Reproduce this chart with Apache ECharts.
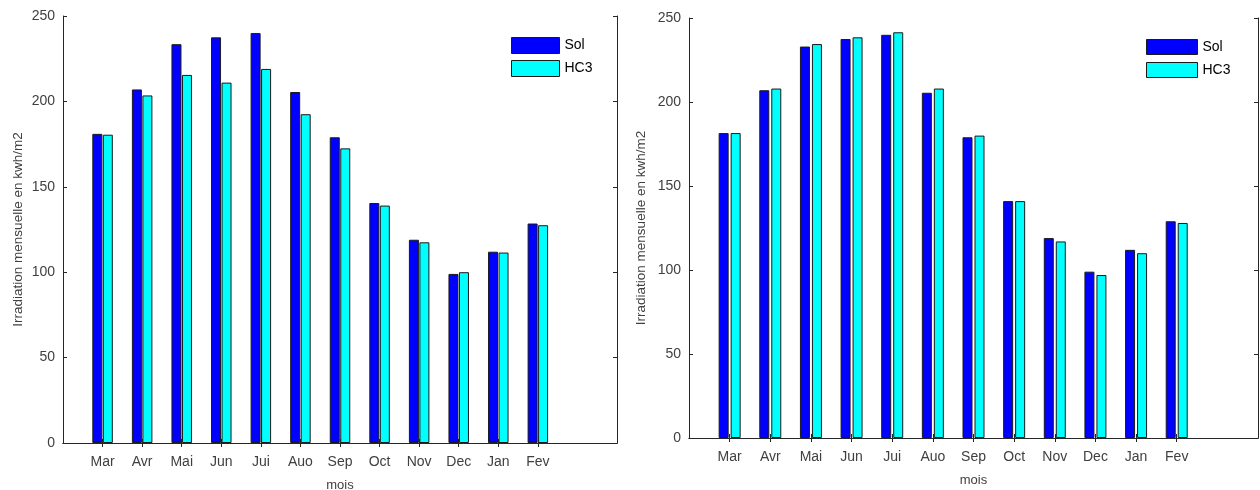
<!DOCTYPE html>
<html>
<head>
<meta charset="utf-8">
<script src="https://cdn.jsdelivr.net/npm/echarts@6/dist/echarts.min.js"></script>
<style>
html,body{margin:0;padding:0;background:#fff;}
#c{width:1260px;height:490px;}
</style>
</head>
<body>
<div id="c"></div>
<script>
// ---- data ----
var months = ['Mar','Avr','Mai','Jun','Jui','Auo','Sep','Oct','Nov','Dec','Jan','Fev'];
var solLeft = [181, 207, 233.5, 237.5, 240, 205.5, 179, 140.5, 119, 99, 112, 128.5];
var hc3Left = [180.5, 203.5, 215.5, 211, 219, 192.5, 172.5, 139, 117.5, 100, 111.5, 127.5];
var solRight = [181.5, 207, 233, 237.5, 240, 205.5, 179, 141, 119, 99, 112, 129];
var hc3Right = [181.5, 208, 234.5, 238.5, 241.5, 208, 180, 141, 117, 97, 110, 128];
var yTicks = [0, 50, 100, 150, 200, 250];
var yName = 'Irradiation mensuelle en kwh/m2';
var xName = 'mois';

// category slots: 0 (empty), 1..12 months, 13,14 (empty) -> MATLAB x-limits [0,14]
var cats = [''].concat(months, ['', '']);
function pad(arr){ return [null].concat(arr, [null, null]); }

var FONT = '"Liberation Sans", Arial, Helvetica, sans-serif';
var TXT = '#404040';
var AX = '#262626';
var tickFn = function(i, v){ return v !== ''; };

function xAxes(gi, labelMargin, nameGap){
  return [{
    type: 'category', gridIndex: gi, data: cats, boundaryGap: false, position: 'bottom',
    axisLine: {lineStyle: {color: AX, width: 1}},
    axisTick: {inside: true, length: 4, interval: tickFn, lineStyle: {color: AX}},
    axisLabel: {interval: 0, color: TXT, fontSize: 14, fontFamily: FONT, margin: labelMargin},
    splitLine: {show: false},
    name: xName, nameLocation: 'middle', nameGap: nameGap,
    nameTextStyle: {color: TXT, fontSize: 13, fontFamily: FONT}
  }, {
    type: 'category', gridIndex: gi, data: cats, boundaryGap: false, position: 'top',
    axisLine: {lineStyle: {color: AX, width: 1}},
    axisTick: {inside: true, length: 4, interval: tickFn, lineStyle: {color: AX}},
    axisLabel: {show: false}, splitLine: {show: false}
  }];
}
function yAxes(gi, nameGap){
  return [{
    type: 'value', gridIndex: gi, min: yTicks[0], max: yTicks[yTicks.length-1], interval: yTicks[1]-yTicks[0],
    position: 'left',
    axisLine: {show: true, lineStyle: {color: AX, width: 1}},
    axisTick: {show: true, inside: true, length: 4, lineStyle: {color: AX}},
    axisLabel: {color: TXT, fontSize: 14, fontFamily: FONT, margin: 8},
    splitLine: {show: false},
    name: yName, nameLocation: 'middle', nameGap: nameGap, nameRotate: 90,
    nameTextStyle: {color: TXT, fontSize: 13.5, fontFamily: FONT}
  }, {
    type: 'value', gridIndex: gi, min: yTicks[0], max: yTicks[yTicks.length-1], interval: yTicks[1]-yTicks[0],
    position: 'right',
    axisLine: {show: true, lineStyle: {color: AX, width: 1}},
    axisTick: {show: true, inside: true, length: 4, lineStyle: {color: AX}},
    axisLabel: {show: false}, splitLine: {show: false}
  }];
}
function barSeries(name, data, color, xi, yi, bw, gap){
  return {
    type: 'bar', name: name, data: pad(data), xAxisIndex: xi, yAxisIndex: yi,
    barWidth: bw, barGap: gap,
    itemStyle: {color: color, borderColor: '#1a1a1a', borderWidth: 1},
    emphasis: {disabled: true}, silent: true
  };
}

var chart = echarts.init(document.getElementById('c'), null, {renderer: 'canvas'});
chart.setOption({
  animation: false,
  backgroundColor: '#fff',
  textStyle: {fontFamily: FONT},
  grid: [
    {left: 63, top: 16, width: 554, height: 427, containLabel: false, outerBoundsMode: 'none'},
    {left: 689, top: 18, width: 569, height: 420, containLabel: false, outerBoundsMode: 'none'}
  ],
  xAxis: xAxes(0, 12, 36).concat(xAxes(1, 12, 36)),
  yAxis: yAxes(0, 38).concat(yAxes(1, 41)),
  legend: [
    {orient: 'vertical', left: 511, top: 37, itemWidth: 48, itemHeight: 16, itemGap: 6,
     icon: 'rect', data: ['Sol', 'HC3'], selectedMode: false, padding: 0,
     itemStyle: {borderWidth: 1, borderColor: '#1a1a1a'},
     textStyle: {color: '#000', fontSize: 14, fontFamily: FONT}},
    {orient: 'vertical', left: 1146, top: 39, itemWidth: 51, itemHeight: 15, itemGap: 7,
     icon: 'rect', data: ['Sol', 'HC3'], selectedMode: false, padding: 0,
     itemStyle: {borderWidth: 1, borderColor: '#1a1a1a'},
     textStyle: {color: '#000', fontSize: 14, fontFamily: FONT}}
  ],
  series: [
    barSeries('Sol', solLeft, '#0000ff', 0, 0, 10, '5%'),
    barSeries('HC3', hc3Left, '#00ffff', 0, 0, 10, '5%'),
    barSeries('Sol', solRight, '#0000ff', 2, 2, 10, '20%'),
    barSeries('HC3', hc3Right, '#00ffff', 2, 2, 10, '20%')
  ]
});
</script>
</body>
</html>
